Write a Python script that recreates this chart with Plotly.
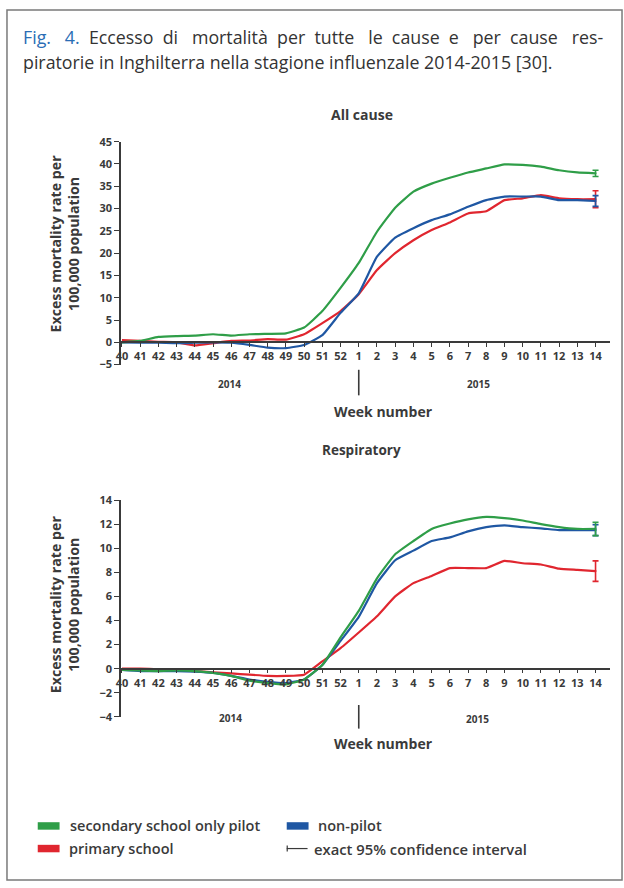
import plotly.graph_objects as go

W, H = 624, 888

weeks = ["40", "41", "42", "43", "44", "45", "46", "47", "48", "49", "50", "51", "52",
         "1", "2", "3", "4", "5", "6", "7", "8", "9", "10", "11", "12", "13", "14"]

# All cause excess mortality per 100,000
all_secondary = [0.0, 0.3, 1.2, 1.4, 1.5, 1.8, 1.5, 1.8, 1.9, 2.0, 3.3, 7.0, 12.2,
                 17.8, 24.8, 30.2, 33.8, 35.6, 36.9, 38.1, 39.0, 39.9, 39.8, 39.4, 38.6, 38.1, 37.9]
all_primary = [0.5, 0.3, 0.1, 0.0, -0.7, -0.2, 0.3, 0.4, 0.7, 0.6, 1.8, 4.3, 7.0,
               10.8, 16.2, 20.0, 22.9, 25.2, 26.9, 28.9, 29.4, 31.9, 32.3, 33.0, 32.3, 32.1, 32.1]
all_nonpilot = [0.0, -0.1, -0.1, -0.2, -0.1, 0.0, -0.1, -0.6, -1.2, -1.3, -0.6, 1.6, 6.6,
                11.0, 19.2, 23.5, 25.6, 27.4, 28.7, 30.4, 31.9, 32.7, 32.7, 32.7, 31.9, 31.9, 31.7]

# Respiratory excess mortality per 100,000
resp_secondary = [-0.1, -0.15, -0.2, -0.15, -0.2, -0.35, -0.6, -1.0, -1.2, -1.3, -0.9, 0.3, 2.6,
                  4.8, 7.5, 9.5, 10.6, 11.6, 12.05, 12.4, 12.6, 12.5, 12.3, 12.0, 11.75, 11.6, 11.6]
resp_primary = [0.0, 0.0, -0.05, -0.1, -0.2, -0.3, -0.4, -0.5, -0.6, -0.6, -0.5, 0.6, 1.7,
                3.0, 4.35, 6.0, 7.1, 7.7, 8.35, 8.35, 8.35, 8.95, 8.75, 8.65, 8.3, 8.2, 8.1]
resp_nonpilot = [-0.1, -0.2, -0.2, -0.2, -0.25, -0.35, -0.6, -0.9, -1.1, -1.2, -0.9, 0.3, 2.3,
                 4.3, 7.1, 9.0, 9.8, 10.6, 10.9, 11.4, 11.75, 11.9, 11.75, 11.65, 11.5, 11.5, 11.5]

# half-width of exact 95% CI at week 14
all_ci = {"secondary": 0.7, "primary": 1.9, "nonpilot": 1.2}
resp_ci = {"secondary": 0.55, "primary": 0.85, "nonpilot": 0.45}

all_yticks = [-5, 0, 5, 10, 15, 20, 25, 30, 35, 40, 45]
resp_yticks = [-4, -2, 0, 2, 4, 6, 8, 10, 12, 14]

caption_1 = "Fig. 4. Eccesso di mortalità per tutte le cause e per cause res-"
caption_2 = "piratorie in Inghilterra nella stagione influenzale 2014-2015 [30]."

COL = {"secondary": "#2f9e48", "primary": "#e0262f", "nonpilot": "#1f57a3"}
AXC = "#3a3a3a"
TXT = "#3a3a3a"
FONT = "Open Sans"


def fx(p):
    return p / W


def fy(p):
    return 1 - p / H


fig = go.Figure()

panels = [
    ("x", "y", {"secondary": all_secondary, "primary": all_primary, "nonpilot": all_nonpilot}, all_ci),
    ("x2", "y2", {"secondary": resp_secondary, "primary": resp_primary, "nonpilot": resp_nonpilot}, resp_ci),
]
for xa, ya, series, ci in panels:
    for key in ["primary", "nonpilot", "secondary"]:
        vals = series[key]
        fig.add_trace(go.Scatter(
            x=weeks, y=vals, mode="lines", xaxis=xa, yaxis=ya, showlegend=False,
            line=dict(color=COL[key], width=2.2, shape="spline", smoothing=0.4),
            hoverinfo="skip"))
    for key in ["primary", "nonpilot", "secondary"]:
        vals = series[key]
        fig.add_trace(go.Scatter(
            x=[weeks[-1]], y=[vals[-1]], mode="markers", xaxis=xa, yaxis=ya, showlegend=False,
            marker=dict(size=2, color=COL[key]),
            error_y=dict(type="data", array=[ci[key]], color=COL[key], thickness=1.6, width=3),
            hoverinfo="skip"))

xdom = [fx(117), fx(610)]
common_x = dict(type="category", range=[-0.05, 26.8], tickmode="array", tickvals=weeks, ticktext=weeks,
                showline=True, linecolor=AXC, linewidth=1.5, ticks="outside", ticklen=4,
                tickcolor=AXC, tickwidth=1.2, tickfont=dict(family=FONT, size=11, color=TXT, weight=700),
                showgrid=False, zeroline=False, fixedrange=True, domain=xdom, anchor="free")
common_y = dict(showline=True, linecolor=AXC, linewidth=1.5, ticks="outside", ticklen=5,
                tickcolor=AXC, tickwidth=1.2, tickfont=dict(family=FONT, size=11, color=TXT, weight=700),
                showgrid=False, zeroline=False, fixedrange=True)

fig.update_layout(
    width=W, height=H, autosize=False,
    margin=dict(l=0, r=0, t=0, b=0),
    paper_bgcolor="white", plot_bgcolor="rgba(0,0,0,0)",
    xaxis=dict(common_x, position=fy(340)),
    yaxis=dict(common_y, domain=[fy(362.7), fy(136)], range=[-5, 45], tickvals=all_yticks, anchor="x"),
    xaxis2=dict(common_x, position=fy(672)),
    yaxis2=dict(common_y, domain=[fy(721), fy(500.5)], range=[-4, 14], tickvals=resp_yticks, anchor="x2"),
)

ann = []


def text(x, y, s, size, xanchor="center", angle=0, weight=600, color=TXT):
    ann.append(dict(x=fx(x), y=fy(y), xref="paper", yref="paper", text=s, showarrow=False,
                    xanchor=xanchor, yanchor="middle", textangle=angle,
                    font=dict(family=FONT, size=size, color=color, weight=weight)))


# caption (first line justified by widened word gaps)
words = caption_1.split(" ")
extra = [2, 1, 1, 2, 1, 1, 2, 1, 1, 2, 1, 2]
line1 = ""
for i, w in enumerate(words):
    if i == 2:
        line1 += "</span>"
    if i == 0:
        line1 += "<span style='color:#2a6db5'>"
    line1 += w
    if i < len(words) - 1:
        line1 += " " + "&nbsp;" * extra[i]
text(16, 30, line1, 17.8, xanchor="left", weight=400, color="#333333")
text(16, 55, caption_2, 17.8, xanchor="left", weight=400, color="#333333")

ytitle = "Excess mortality rate per<br>100,000 population"
text(359.5, 108, "All cause", 14, weight=700)
text(60, 240, ytitle, 14.2, angle=-90, weight=700)
text(226, 382, "2014", 10, weight=700)
text(477, 382, "2015", 10, weight=700)
text(382, 410, "Week number", 14, weight=700)

text(359, 450, "Respiratory", 13.5, weight=700)
text(60, 607, ytitle, 14.2, angle=-90, weight=700)
text(227, 722, "2014", 10, weight=700)
text(476, 723, "2015", 10, weight=700)
text(382, 748, "Week number", 14, weight=700)

# legend
text(64, 832, "secondary school only pilot", 14.5, xanchor="left")
text(314, 832, "non-pilot", 14.5, xanchor="left")
text(62, 855, "primary school", 14.5, xanchor="left")
text(309, 855, "exact 95% confidence interval", 14.8, xanchor="left")

fig.update_layout(annotations=ann)

shapes = []
# outer frame
shapes.append(dict(type="rect", xref="paper", yref="paper", x0=fx(2), x1=fx(622), y0=fy(887), y1=fy(2),
                   line=dict(color="#7a7a7a", width=1.5)))
# year dividers (at week 1)
shapes.append(dict(type="line", xref="x", yref="paper", x0=13, x1=13, y0=fy(394), y1=fy(368),
                   line=dict(color=AXC, width=1.6)))
shapes.append(dict(type="line", xref="x2", yref="paper", x0=13, x1=13, y0=fy(733), y1=fy(709),
                   line=dict(color=AXC, width=1.6)))
# legend swatches
for x0, y, c in [(33, 832, COL["secondary"]), (284, 832, COL["nonpilot"]), (33, 855, COL["primary"])]:
    shapes.append(dict(type="rect", xref="paper", yref="paper", x0=fx(x0), x1=fx(x0 + 22),
                       y0=fy(y + 3.8), y1=fy(y - 3.8), line=dict(width=0), fillcolor=c))
# CI glyph
shapes.append(dict(type="line", xref="paper", yref="paper", x0=fx(284), x1=fx(305), y0=fy(855), y1=fy(855),
                   line=dict(color=AXC, width=1.2)))
shapes.append(dict(type="line", xref="paper", yref="paper", x0=fx(284.5), x1=fx(284.5), y0=fy(858), y1=fy(852),
                   line=dict(color=AXC, width=1.2)))
fig.update_layout(shapes=shapes)

fig.write_html("out.html", config={"displayModeBar": False},
               post_script="document.body.style.margin='0';document.body.style.overflow='hidden';")
